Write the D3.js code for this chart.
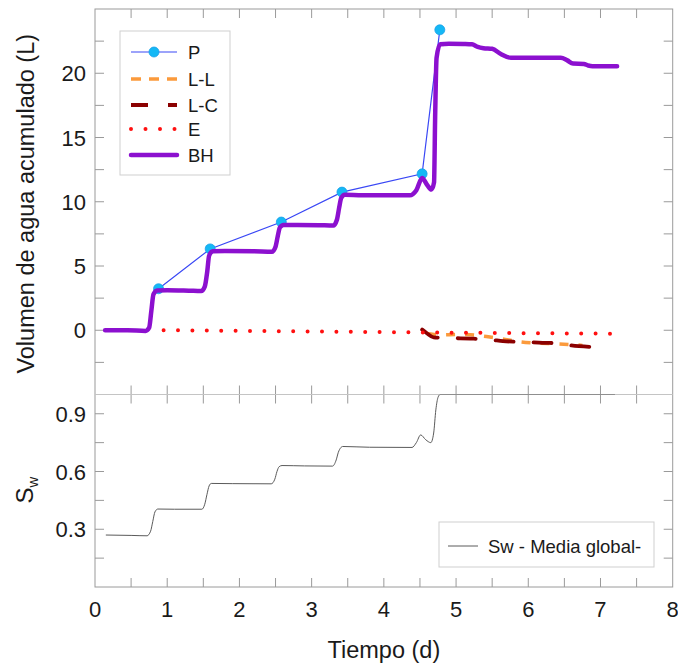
<!DOCTYPE html>
<html>
<head>
<meta charset="utf-8">
<script src="https://cdn.jsdelivr.net/npm/d3@7"></script>
<style>
  body { margin: 0; background: #fff; }
  svg { font-family: Arial, "Liberation Sans", sans-serif; }
</style>
</head>
<body>
<svg width="678" height="671"></svg>
<script>
// P - precipitation (points)
var pTime = [0.88, 1.595, 2.58, 3.42, 4.53, 4.775];
var pVol = [3.23, 6.33, 8.42, 10.75, 12.17, 23.38];

// BH - water balance
var bhTime = [0.14, 0.45, 0.70, 0.75, 0.78, 0.81, 0.86, 1.0, 1.3, 1.47, 1.52, 1.555, 1.58, 1.63, 1.8, 2.2, 2.45, 2.50, 2.53, 2.56, 2.61, 2.8, 3.1, 3.30, 3.35, 3.38, 3.41, 3.46, 3.7, 4.1, 4.36, 4.45, 4.53, 4.60, 4.66, 4.695, 4.71, 4.73, 4.78, 4.9, 5.1, 5.22, 5.30, 5.38, 5.50, 5.62, 5.76, 6.0, 6.3, 6.45, 6.54, 6.62, 6.77, 6.83, 6.89, 7.0, 7.23];
var bhVol = [0, 0, -0.05, 0.2, 1.5, 2.8, 3.1, 3.12, 3.08, 3.05, 3.4, 4.6, 5.8, 6.15, 6.17, 6.15, 6.1, 6.5, 7.3, 8.0, 8.2, 8.2, 8.18, 8.15, 8.6, 9.5, 10.3, 10.55, 10.5, 10.5, 10.5, 10.9, 11.85, 11.3, 10.95, 11.5, 16.5, 21.2, 22.25, 22.3, 22.28, 22.25, 22.05, 21.95, 21.9, 21.5, 21.2, 21.2, 21.2, 21.2, 21.0, 20.75, 20.72, 20.6, 20.55, 20.55, 20.55];

// L-L and L-C
var llTime = [4.6, 4.76, 5.04, 5.2, 5.36, 5.5, 5.62, 5.88, 6.1, 6.41, 6.55, 6.75];
var llVol = [-0.25, -0.36, -0.33, -0.35, -0.44, -0.55, -0.65, -0.9, -1.0, -1.06, -1.1, -1.18];
var lcTime = [4.53, 4.6, 4.69, 4.9, 5.2, 5.4, 5.5, 5.65, 5.9, 6.2, 6.4, 6.55, 6.87];
var lcVol = [0.05, -0.25, -0.55, -0.6, -0.65, -0.7, -0.75, -0.85, -0.9, -0.98, -1.0, -1.15, -1.3];

// E - evaporation
var eTime = [0.95, 2, 3, 4, 5, 6, 7.17];
var eVol = [0, -0.05, -0.1, -0.14, -0.19, -0.23, -0.27];

// Sw - global mean saturation
var swTime = [0.15, 0.5, 0.72, 0.77, 0.80, 0.83, 0.87, 1.1, 1.48, 1.52, 1.55, 1.58, 1.61, 1.9, 2.44, 2.49, 2.52, 2.55, 2.59, 2.9, 3.29, 3.34, 3.37, 3.40, 3.43, 3.8, 4.39, 4.45, 4.51, 4.58, 4.65, 4.69, 4.72, 4.75, 4.78, 5.0, 7.2];
var swVal = [0.27, 0.268, 0.266, 0.29, 0.34, 0.39, 0.405, 0.404, 0.404, 0.43, 0.48, 0.525, 0.538, 0.537, 0.536, 0.56, 0.6, 0.625, 0.631, 0.629, 0.628, 0.66, 0.70, 0.722, 0.73, 0.726, 0.725, 0.75, 0.79, 0.765, 0.75, 0.80, 0.92, 0.985, 1.0, 1.0, 1.0];

var xTicks = [0, 1, 2, 3, 4, 5, 6, 7, 8];
var volTicks = [0, 5, 10, 15, 20];
var swTicks = [0.3, 0.6, 0.9];

var svg = d3.select("svg");
var pLeft = 95, pRight = 672.7, pTop = 9, pMid = 394.5, pBottom = 587;
var frameColor = "#9a9a9a";
var tickLen = 9;

var x = d3.scaleLinear().domain([0, 8]).range([pLeft, pRight]);
var yV = d3.scaleLinear().domain([-5, 25]).range([pMid, pTop]);
var yS = d3.scaleLinear().domain([0, 1]).range([pBottom, pMid]);

function zip(a, b) { return a.map(function (d, i) { return [d, b[i]]; }); }

// clip for each panel
var defs = svg.append("defs");
defs.append("clipPath").attr("id", "clipTop").append("rect")
    .attr("x", pLeft).attr("y", pTop).attr("width", pRight - pLeft).attr("height", pMid - pTop);
defs.append("clipPath").attr("id", "clipBot").append("rect")
    .attr("x", pLeft).attr("y", pMid).attr("width", pRight - pLeft).attr("height", pBottom - pMid);

// ticks
var g = svg.append("g").attr("stroke", frameColor).attr("stroke-width", 1);
var xMinor = d3.range(0.5, 8, 0.5);
[pTop, pMid].forEach(function (yy) {
    g.selectAll(null).data(xMinor).enter().append("line")
        .attr("x1", x).attr("x2", x).attr("y1", yy).attr("y2", yy + tickLen);
});
[pMid, pBottom].forEach(function (yy) {
    g.selectAll(null).data(xMinor).enter().append("line")
        .attr("x1", x).attr("x2", x).attr("y1", yy).attr("y2", yy - tickLen);
});
var vMinor = d3.range(-2.5, 25, 2.5);
var sMinor = d3.range(0.15, 1, 0.15);
[[pLeft, 1], [pRight, -1]].forEach(function (s) {
    g.selectAll(null).data(vMinor).enter().append("line")
        .attr("x1", s[0]).attr("x2", s[0] + s[1] * tickLen)
        .attr("y1", yV).attr("y2", yV);
    g.selectAll(null).data(sMinor).enter().append("line")
        .attr("x1", s[0]).attr("x2", s[0] + s[1] * tickLen)
        .attr("y1", yS).attr("y2", yS);
});

// frame
svg.append("rect").attr("x", pLeft).attr("y", pTop)
    .attr("width", pRight - pLeft).attr("height", pBottom - pTop)
    .attr("fill", "none").attr("stroke", frameColor);
svg.append("line").attr("x1", pLeft).attr("x2", pRight).attr("y1", pMid).attr("y2", pMid)
    .attr("stroke", "#c4c4c4");

// tick labels
var lab = svg.append("g").attr("fill", "#1a1a1a").attr("font-size", 22);
lab.selectAll(null).data(xTicks).enter().append("text")
    .attr("x", x).attr("y", 617).attr("text-anchor", "middle").text(function (d) { return d; });
lab.selectAll(null).data(volTicks).enter().append("text")
    .attr("x", 86).attr("y", function (d) { return yV(d) + 8; })
    .attr("text-anchor", "end").text(function (d) { return d; });
lab.selectAll(null).data(swTicks).enter().append("text")
    .attr("x", 86).attr("y", function (d) { return yS(d) + 8; })
    .attr("text-anchor", "end").text(function (d) { return d3.format(".1f")(d); });

// axis titles
svg.append("text").attr("transform", "translate(34," + ((pTop + pMid) / 2 + 2) + ") rotate(-90)")
    .attr("text-anchor", "middle").attr("font-size", 23.5).attr("fill", "#1a1a1a")
    .text("Volumen de agua acumulado (L)");
var swLab = svg.append("text").attr("transform", "translate(33,490) rotate(-90)")
    .attr("text-anchor", "middle").attr("font-size", 24).attr("fill", "#1a1a1a");
swLab.append("tspan").text("S");
swLab.append("tspan").attr("font-size", 15).attr("dy", 5).text("w");
svg.append("text").attr("x", (pLeft + pRight) / 2).attr("y", 658)
    .attr("text-anchor", "middle").attr("font-size", 23.5).attr("fill", "#1a1a1a")
    .text("Tiempo (d)");

// series
var lineV = d3.line().x(function (d) { return x(d[0]); }).y(function (d) { return yV(d[1]); });
var smoothV = d3.line().curve(d3.curveMonotoneX)
    .x(function (d) { return x(d[0]); }).y(function (d) { return yV(d[1]); });
var topG = svg.append("g").attr("clip-path", "url(#clipTop)");

var colP = "#3a48f5", colPfill = "#14b8f5", colLL = "#fb9a3c", colLC = "#8b0000",
    colE = "#ff1010", colBH = "#8c10cf";

var pData = zip(pTime, pVol);
topG.append("path").attr("d", lineV(pData)).attr("fill", "none")
    .attr("stroke", colP).attr("stroke-width", 1.2);
topG.selectAll(null).data(pData).enter().append("circle")
    .attr("cx", function (d) { return x(d[0]); }).attr("cy", function (d) { return yV(d[1]); })
    .attr("r", 5).attr("fill", colPfill).attr("stroke", "#1aa0e8").attr("stroke-width", 0.8);

topG.append("path").attr("d", smoothV(zip(llTime, llVol))).attr("fill", "none")
    .attr("stroke", colLL).attr("stroke-width", 3.5).attr("stroke-dasharray", "9 10");
topG.append("path").attr("d", smoothV(zip(lcTime, lcVol))).attr("fill", "none")
    .attr("stroke", colLC).attr("stroke-width", 3.8).attr("stroke-dasharray", "18 20")
    .attr("stroke-linecap", "round");
topG.append("path").attr("d", lineV(zip(eTime, eVol))).attr("fill", "none")
    .attr("stroke", colE).attr("stroke-width", 4).attr("stroke-linecap", "round")
    .attr("stroke-dasharray", "0 14.4");
topG.append("path").attr("d", smoothV(zip(bhTime, bhVol))).attr("fill", "none")
    .attr("stroke", colBH).attr("stroke-width", 4.5).attr("stroke-linejoin", "round")
    .attr("stroke-linecap", "round");

var smoothS = d3.line().curve(d3.curveMonotoneX)
    .x(function (d) { return x(d[0]); }).y(function (d) { return yS(d[1]); });
svg.append("g").attr("clip-path", "url(#clipBot)").append("path")
    .attr("d", smoothS(zip(swTime, swVal))).attr("fill", "none")
    .attr("stroke", "#5a5a5a").attr("stroke-width", 1);

// legend top
var leg = svg.append("g");
leg.append("rect").attr("x", 120).attr("y", 31).attr("width", 110).attr("height", 144)
    .attr("fill", "#fff").attr("stroke", "#cfcfcf");
var legItems = [
    { name: "P", color: colP, w: 1.2, dash: null },
    { name: "L-L", color: colLL, w: 3.5, dash: "10 8" },
    { name: "L-C", color: colLC, w: 3.8, dash: "17 20" },
    { name: "E", color: colE, w: 4, dash: "0 14.5", cap: "round" },
    { name: "BH", color: colBH, w: 4.5, dash: null, cap: "round" }
];
var legY = [52, 79, 105, 129, 155];
legItems.forEach(function (it, i) {
    var yy = legY[i];
    leg.append("line").attr("x1", 131).attr("x2", 177).attr("y1", yy).attr("y2", yy)
        .attr("stroke", it.color).attr("stroke-width", it.w)
        .attr("stroke-dasharray", it.dash).attr("stroke-linecap", it.cap || "butt");
    if (it.name === "P") {
        leg.append("circle").attr("cx", 154).attr("cy", yy).attr("r", 5)
            .attr("fill", colPfill).attr("stroke", "#1aa0e8").attr("stroke-width", 0.8);
    }
    leg.append("text").attr("x", 188).attr("y", yy + 6.5).attr("font-size", 18.5)
        .attr("fill", "#1a1a1a").text(it.name);
});

// legend bottom
var leg2 = svg.append("g");
leg2.append("rect").attr("x", 439).attr("y", 522).attr("width", 215).attr("height", 45)
    .attr("fill", "#fff").attr("stroke", "#cfcfcf");
leg2.append("line").attr("x1", 448).attr("x2", 478).attr("y1", 546).attr("y2", 546)
    .attr("stroke", "#5a5a5a").attr("stroke-width", 1);
leg2.append("text").attr("x", 488).attr("y", 553).attr("font-size", 18.5)
    .attr("fill", "#1a1a1a").text("Sw - Media global-");
</script>
</body>
</html>
